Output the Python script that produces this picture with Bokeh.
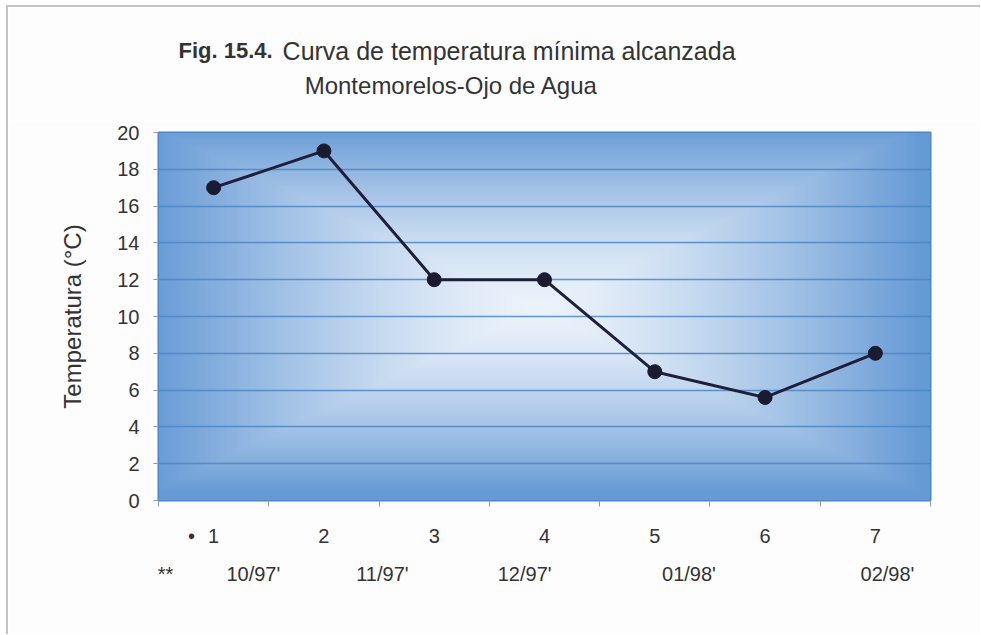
import numpy as np
from bokeh.plotting import figure
from bokeh.layouts import column
from bokeh.models import ColumnDataSource, FixedTicker, Range1d, LinearAxis
from bokeh.core.properties import value
from bokeh.embed import file_html
from bokeh.resources import INLINE

# ---- data ----
categories = [1, 2, 3, 4, 5, 6, 7]
temperatures = [17, 19, 12, 12, 7, 5.6, 8]
cat_labels = ["1", "2", "3", "4", "5", "6", "7"]
date_labels = ["10/97'", "11/97'", "12/97'", "01/98'", "02/98'"]
date_x = [1.36, 2.53, 3.82, 5.31, 7.11]
y_ticks = [0, 2, 4, 6, 8, 10, 12, 14, 16, 18, 20]
title_bold = "Fig. 15.4."
title_rest = "Curva de temperatura mínima alcanzada"
subtitle = "Montemorelos-Ojo de Agua"

FONT = "Liberation Sans"
TXT = "#333333"
BG = "#fdfdfd"
EDGE = "2px solid #c4c4c4"

xr = Range1d(0.5, 7.5)

# ---- main chart ----
p = figure(width=972, height=514, output_backend="svg", toolbar_location=None,
           x_range=xr, y_range=Range1d(0, 20),
           min_border_left=150, min_border_right=50, min_border_top=12,
           min_border_bottom=134, title=None)
p.background_fill_color = "#ffffff"
p.border_fill_color = BG
p.outline_line_color = "#4682c4"
p.outline_line_width = 2

# plot area gradient (Excel "from center")
H, W = 200, 380
yy, xx = np.mgrid[0:H, 0:W]
u = np.abs((xx + 0.5) / W - 0.49) * 2
v = np.abs((yy + 0.5) / H - 0.52) * 2.0
tt = np.clip(np.maximum(u, v), 0, 1) ** 1.4
c0 = np.array([236, 243, 251])
c1 = np.array([102, 154, 213])
rgb = c0[None, None, :] * (1 - tt[..., None]) + c1[None, None, :] * tt[..., None]
img = np.zeros((H, W), dtype=np.uint32)
view = img.view(dtype=np.uint8).reshape((H, W, 4))
view[..., 0] = rgb[..., 0].astype(np.uint8)
view[..., 1] = rgb[..., 1].astype(np.uint8)
view[..., 2] = rgb[..., 2].astype(np.uint8)
view[..., 3] = 255
p.image_rgba(image=[img], x=0.5, y=0, dw=7, dh=20, level="image")

# grid
p.xgrid.grid_line_color = None
p.ygrid.ticker = FixedTicker(ticks=y_ticks)
p.ygrid.grid_line_color = "#4a86c6"
p.ygrid.grid_line_width = 1.6
p.ygrid.grid_line_alpha = 0.85
p.ygrid.level = "underlay"

# y axis
p.yaxis.ticker = FixedTicker(ticks=y_ticks)
p.yaxis.axis_label = "Temperatura (°C)"
p.yaxis.axis_label_text_font = FONT
p.yaxis.axis_label_text_font_style = "normal"
p.yaxis.axis_label_text_font_size = "24px"
p.yaxis.axis_label_text_color = TXT
p.yaxis.axis_label_standoff = 28
p.yaxis.major_label_text_font = FONT
p.yaxis.major_label_text_font_size = "20px"
p.yaxis.major_label_text_color = TXT
p.yaxis.major_label_standoff = 14
p.yaxis.major_tick_out = 5
p.yaxis.major_tick_in = 0
p.yaxis.minor_tick_line_color = None
p.yaxis.major_tick_line_color = "#8a9bb0"
p.yaxis.axis_line_color = None

# x axis: numbers row, with tick marks on the category boundaries
boundaries = [c - 0.5 for c in categories] + [categories[-1] + 0.5]
bullet_x = 0.80
xa = p.xaxis[0]
xa.ticker = FixedTicker(ticks=[bullet_x] + categories, minor_ticks=boundaries)
xa.major_label_overrides = {bullet_x: "•", **{c: l for c, l in zip(categories, cat_labels)}}
xa.major_label_text_font = FONT
xa.major_label_text_font_size = "20px"
xa.major_label_text_color = TXT
xa.major_tick_line_color = None
xa.major_tick_out = 6
xa.major_tick_in = 0
xa.minor_tick_line_color = "#8a9bb0"
xa.minor_tick_out = 6
xa.minor_tick_in = 0
xa.major_label_standoff = 18
xa.axis_line_color = None

# second row: dates
star_x = 0.563
da = LinearAxis(ticker=FixedTicker(ticks=[star_x] + date_x, minor_ticks=[]),
                major_label_overrides={star_x: "**", **{x: l for x, l in zip(date_x, date_labels)}})
da.major_label_text_font = FONT
da.major_label_text_font_size = "20px"
da.major_label_text_color = TXT
da.major_tick_line_color = None
da.minor_tick_line_color = None
da.major_tick_out = 0
da.major_tick_in = 0
da.major_label_standoff = 13
da.axis_line_color = None
p.add_layout(da, "below")

# series
src = ColumnDataSource(dict(x=categories, y=temperatures))
p.line("x", "y", source=src, line_color="#1f1f3a", line_width=3)
p.scatter("x", "y", source=src, size=14, fill_color="#1a1a30", line_color="#1a1a30")

# ---- title strip (shares the x scale of the chart) ----
t = figure(width=972, height=113, output_backend="svg", toolbar_location=None,
           x_range=xr, y_range=Range1d(0, 113),
           x_axis_type=None, y_axis_type=None, min_border=0, title=None)
t.grid.grid_line_color = None
t.outline_line_color = None
t.background_fill_color = BG
t.border_fill_color = BG
t.text(x=[0.681], y=[70], text=[title_bold], text_align="left", text_baseline="middle",
       text_font=value(FONT), text_font_size="22px", text_font_style="bold",
       text_color=TXT)
t.text(x=[1.625], y=[70], text=[title_rest], text_align="left", text_baseline="middle",
       text_font=value(FONT), text_font_size="25px", text_color=TXT)
t.text(x=[3.156], y=[35], text=[subtitle], text_align="center", text_baseline="middle",
       text_font=value(FONT), text_font_size="24px", text_color=TXT)

layout = column(t, p, spacing=0)
layout.styles = {"border-top": EDGE, "border-left": EDGE,
                 "margin-top": "5px", "margin-left": "6px"}
open("out.html", "w").write(file_html(layout, INLINE))
